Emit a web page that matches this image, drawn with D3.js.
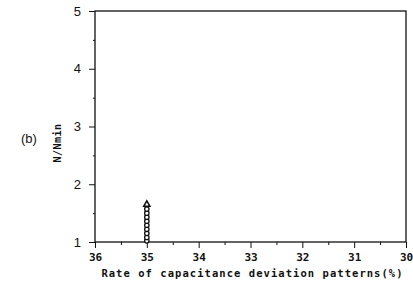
<!DOCTYPE html>
<html>
<head>
<meta charset="utf-8">
<script src="https://cdn.jsdelivr.net/npm/d3@7"></script>
<style>
  body { margin: 0; background: #fff; }
  svg { display: block; }
  .axis path, .axis line { stroke: #111; }
  .xlab { font-family: "DejaVu Sans Mono", monospace; font-weight: bold; font-size: 11px; }
  .ylab { font-family: "Liberation Sans Narrow", "Liberation Sans", sans-serif; font-size: 13px; }
</style>
</head>
<body>
<div id="chart"></div>
<script>
const xTicks = [36, 35, 34, 33, 32, 31, 30];
const yTicks = [1, 2, 3, 4, 5];
// circles stacked at 35%, triangle on top
const circleX = [35, 35, 35, 35, 35, 35, 35, 35, 35];
const circleY = [1.02, 1.08, 1.15, 1.22, 1.29, 1.36, 1.43, 1.50, 1.57];
const triX = [35];
const triY = [1.65];

const width = 413, height = 288;
const margin = {left: 95, right: 7, top: 11, bottom: 46};

const svg = d3.select('#chart').append('svg')
  .attr('width', width).attr('height', height);

const x = d3.scaleLinear().domain([36, 30]).range([margin.left, width - margin.right]);
const y = d3.scaleLinear().domain([1, 5]).range([height - margin.bottom, margin.top]);

const g = svg.append('g');

// frame
g.append('rect')
  .attr('x', x(36)).attr('y', y(5))
  .attr('width', x(30) - x(36)).attr('height', y(1) - y(5))
  .attr('fill', 'none').attr('stroke', '#111').attr('stroke-width', 1.3);

// x axis major + minor ticks
const xAxis = g.append('g').attr('class', 'axis')
  .attr('transform', `translate(0,${y(1)})`)
  .call(d3.axisBottom(x).tickValues(xTicks).tickSize(6).tickPadding(5).tickFormat(d3.format('d')));
xAxis.select('.domain').remove();
xAxis.selectAll('text').attr('class', 'xlab').attr('fill', '#111');
g.append('g').attr('class', 'axis')
  .attr('transform', `translate(0,${y(1)})`)
  .call(d3.axisBottom(x).tickValues([35.5, 34.5, 33.5, 32.5, 31.5, 30.5]).tickSize(3).tickFormat(''))
  .select('.domain').remove();

// y axis major + minor ticks
const yAxis = g.append('g').attr('class', 'axis')
  .attr('transform', `translate(${x(36)},0)`)
  .call(d3.axisLeft(y).tickValues(yTicks).tickSize(6).tickPadding(8).tickFormat(d3.format('d')));
yAxis.select('.domain').remove();
yAxis.selectAll('text').attr('class', 'ylab').attr('fill', '#111');
g.append('g').attr('class', 'axis')
  .attr('transform', `translate(${x(36)},0)`)
  .call(d3.axisLeft(y).tickValues([1.5, 2.5, 3.5, 4.5]).tickSize(2).tickFormat(''))
  .select('.domain').remove();

// points
g.selectAll('circle.pt').data(circleX.map((d, i) => [d, circleY[i]]))
  .join('circle').attr('class', 'pt')
  .attr('cx', d => x(d[0])).attr('cy', d => y(d[1])).attr('r', 2.2)
  .attr('fill', '#fff').attr('stroke', '#111').attr('stroke-width', 1.3);
g.selectAll('path.tri').data(triX.map((d, i) => [d, triY[i]]))
  .join('path').attr('class', 'tri')
  .attr('d', d3.symbol(d3.symbolTriangle, 16))
  .attr('transform', d => `translate(${x(d[0])},${y(d[1])})`)
  .attr('fill', '#fff').attr('stroke', '#111').attr('stroke-width', 1.6);

// titles
svg.append('text')
  .attr('x', (x(36) + x(30)) / 2 + 2).attr('y', 277)
  .attr('text-anchor', 'middle')
  .style('font-family', '"DejaVu Sans Mono", monospace').style('font-weight', 'bold')
  .style('font-size', '10.5px').style('letter-spacing', '1.05px').attr('fill', '#111')
  .text('Rate of capacitance deviation patterns(%)');

svg.append('text')
  .attr('transform', 'translate(61,143) rotate(-90)')
  .attr('text-anchor', 'middle')
  .style('font-family', '"DejaVu Sans Mono", monospace').style('font-weight', 'bold')
  .style('font-size', '10px').style('letter-spacing', '0.5px').attr('fill', '#111')
  .text('N/Nmin');

svg.append('text')
  .attr('x', 21).attr('y', 143)
  .style('font-family', '"Liberation Sans", sans-serif')
  .style('font-size', '13px').attr('fill', '#111')
  .text('(b)');
</script>
</body>
</html>
